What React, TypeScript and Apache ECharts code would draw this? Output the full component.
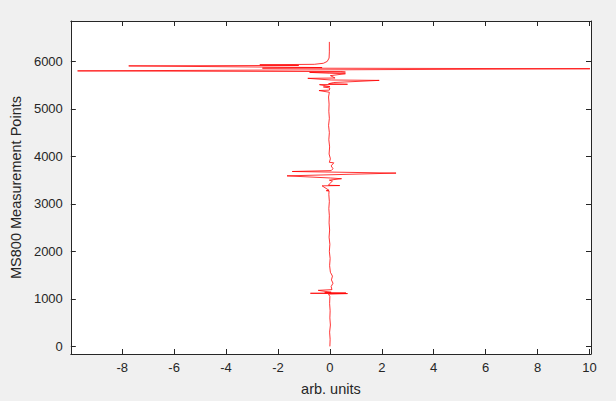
import React, { useEffect, useRef } from "react";
import * as echarts from "echarts";

// Measurement point index (vertical axis) and signal (horizontal axis, arb. units)
const measurementPoint = [
  0, 150, 300, 450, 600, 750, 900, 1050, 1100, 1112, 1118, 1124, 1130, 1140, 1180, 1195,
  1260, 1330, 1400, 1480, 1560, 1700, 1850, 2000, 2150, 2300, 2450, 2600, 2750, 2900,
  3050, 3200, 3270, 3278, 3285, 3380, 3386, 3392, 3420, 3480, 3500, 3530, 3545, 3590,
  3648, 3682, 3700, 3740, 3800, 3865, 3875, 3950, 4050, 4200, 4350, 4500, 4650, 4800,
  4950, 5100, 5250, 5350, 5386, 5395, 5440, 5462, 5470, 5510, 5518, 5530, 5555, 5600,
  5608, 5643, 5650, 5700, 5740, 5750, 5768, 5775, 5785, 5800, 5845, 5858, 5870, 5905,
  5915, 5928, 5938, 5960, 6000, 6070, 6200, 6410,
];
const signal = [
  0.0, 0.01, -0.01, 0.02, 0.0, 0.01, -0.01, 0.0, -0.05, 0.68, -0.75, 0.62, -0.2, 0.05, -0.45, 0.08,
  0.05, 0.12, 0.06, 0.1, 0.02, -0.01, 0.01, -0.02, 0.0, -0.03, -0.01, -0.03, -0.02, -0.04,
  -0.02, -0.04, -0.03, -0.14, -0.03, -0.3, 0.38, -0.05, -0.02, 0.1, -0.02, 0.45, 0.02, -1.65,
  2.55, -1.45, 0.05, 0.12, 0.05, 0.15, -0.02, 0.02, -0.03, -0.01, -0.04, -0.02, -0.05, -0.02,
  -0.04, -0.03, -0.05, -0.02, -0.42, -0.02, 0.0, -0.25, 0.0, -0.4, 0.68, -0.05, 0.15, 1.9,
  0.05, -0.85, 0.2, 0.02, 0.6, 0.0, -0.78, 0.6, 0.42, -9.72, 10.02, -2.6, -0.3, -7.75,
  -1.2, -2.7, -0.6, -0.25, -0.1, -0.03, -0.02, -0.02,
];
const xTicks = [-8, -6, -4, -2, 0, 2, 4, 6, 8, 10];
const yTicks = [0, 1000, 2000, 3000, 4000, 5000, 6000];

const FONT = "'Liberation Sans', Arial, Helvetica, sans-serif";
const TXT = "#262626";

export default function App() {
  const ref = useRef<HTMLDivElement>(null);
  useEffect(() => {
    document.body.style.margin = "0";
    const chart = echarts.init(ref.current!, null, { renderer: "svg" });
    const data = measurementPoint.map((y, i) => [signal[i], y]);
    const xMin = -9.98, xMax = 10.06, yMin = -160, yMax = 6850;
    const axisLine = { show: true, onZero: false, lineStyle: { color: TXT, width: 1 } };
    const tick = (vals: number[]) => ({
      show: true,
      inside: true,
      length: 5,
      customValues: vals,
      lineStyle: { color: TXT, width: 1 },
    });
    const plain = (v: number) => String(v);
    chart.setOption({
      animation: false,
      backgroundColor: "#f0f0f0",
      textStyle: { fontFamily: FONT },
      grid: {
        left: 66,
        top: 21,
        width: 525,
        height: 335,
        show: true,
        backgroundColor: "#ffffff",
        borderWidth: 0,
        containLabel: false,
      },
      xAxis: [
        {
          type: "value",
          min: xMin,
          max: xMax,
          position: "bottom",
          axisLine,
          axisTick: tick(xTicks),
          splitLine: { show: false },
          axisLabel: {
            customValues: xTicks,
            formatter: plain,
            color: TXT,
            fontSize: 13,
            fontFamily: FONT,
            margin: 7,
          },
          name: "arb. units",
          nameLocation: "middle",
          nameGap: 27,
          nameTextStyle: { color: TXT, fontSize: 14.5, fontFamily: FONT },
        },
        {
          type: "value",
          min: xMin,
          max: xMax,
          position: "top",
          axisLine,
          axisTick: tick(xTicks),
          splitLine: { show: false },
          axisLabel: { show: false },
        },
      ],
      yAxis: [
        {
          type: "value",
          min: yMin,
          max: yMax,
          position: "left",
          axisLine,
          axisTick: tick(yTicks),
          splitLine: { show: false },
          axisLabel: {
            customValues: yTicks,
            formatter: plain,
            color: TXT,
            fontSize: 13,
            fontFamily: FONT,
            margin: 8,
          },
          name: "MS800 Measurement Points",
          nameLocation: "middle",
          nameGap: 38,
          nameTextStyle: { color: TXT, fontSize: 14.5, fontFamily: FONT },
        },
        {
          type: "value",
          min: yMin,
          max: yMax,
          position: "right",
          axisLine,
          axisTick: tick(yTicks),
          splitLine: { show: false },
          axisLabel: { show: false },
        },
      ],
      series: [
        {
          type: "line",
          data,
          showSymbol: false,
          symbol: "none",
          lineStyle: { color: "#ff0000", width: 0.8 },
          itemStyle: { color: "#ff0000" },
          clip: true,
        },
      ],
    });
    return () => chart.dispose();
  }, []);
  return <div ref={ref} style={{ width: 616, height: 401 }} />;
}
